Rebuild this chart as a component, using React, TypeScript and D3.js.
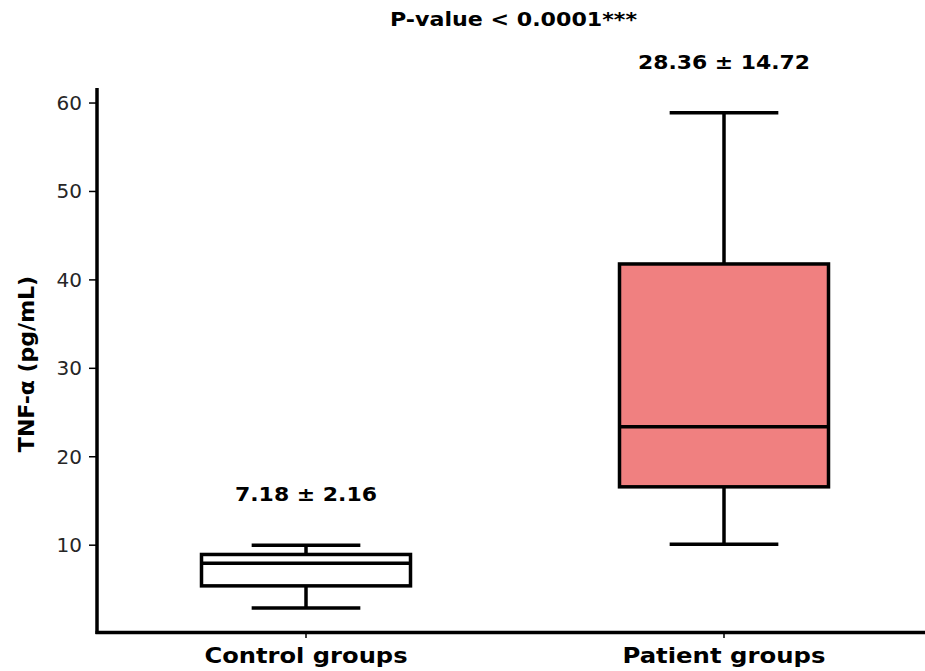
import React from "react";
import * as d3 from "d3";

// box statistics
const categories = ["Control groups", "Patient groups"];
const whiskerLow = [2.9, 10.1];
const q1 = [5.4, 16.6];
const median = [7.95, 23.4];
const q3 = [8.95, 41.8];
const whiskerHigh = [10.0, 58.9];
const fills = ["#ffffff", "#f08080"];
const meanSd = ["7.18 ± 2.16", "28.36 ± 14.72"];
const yTicks = [10, 20, 30, 40, 50, 60];
const title = "P-value < 0.0001***";

const W = 925, H = 671;
const font = "DejaVu Sans, sans-serif";
// the source image is a little wider than tall, so bold labels are stretched
const meanSdLen = [142, 172];
const catLen = [203, 203];

export default function App() {
  const x = d3.scaleLinear().domain([-0.5, 1.5]).range([97, 933]);
  const y = d3.scaleLinear().domain([0.07, 61.7]).range([633, 88]);
  const boxW = x(0.25) - x(0);
  const capW = x(0.13) - x(0);

  return (
    <svg width={W} height={H} style={{ position: "absolute", left: 0, top: 0 }} fontFamily={font}>
      <rect width={W} height={H} fill="#fff" />
      <text x={513.5} y={26} textAnchor="middle" fontWeight="bold" fontSize={19}
        textLength={247} lengthAdjust="spacingAndGlyphs">{title}</text>

      {categories.map((c, i) => {
        const cx = x(i);
        return (
          <g key={c} stroke="#000" strokeWidth={3.5} fill="none">
            <line x1={cx} x2={cx} y1={y(whiskerLow[i])} y2={y(q1[i])} />
            <line x1={cx} x2={cx} y1={y(q3[i])} y2={y(whiskerHigh[i])} />
            <line x1={cx - capW} x2={cx + capW} y1={y(whiskerLow[i])} y2={y(whiskerLow[i])} />
            <line x1={cx - capW} x2={cx + capW} y1={y(whiskerHigh[i])} y2={y(whiskerHigh[i])} />
            <rect x={cx - boxW} width={boxW * 2} y={y(q3[i])} height={y(q1[i]) - y(q3[i])} fill={fills[i]} />
            <line x1={cx - boxW} x2={cx + boxW} y1={y(median[i])} y2={y(median[i])} />
            <text x={cx} y={y(whiskerHigh[i]) - 44} textAnchor="middle" fontWeight="bold" fontSize={19.5}
              textLength={meanSdLen[i]} lengthAdjust="spacingAndGlyphs" stroke="none" fill="#000">{meanSd[i]}</text>
          </g>
        );
      })}

      {/* y axis */}
      <line x1={97} x2={97} y1={88} y2={634} stroke="#000" strokeWidth={3.5} />
      {yTicks.map((t) => (
        <g key={t} transform={`translate(0,${y(t)})`}>
          <line x1={89} x2={97} stroke="#000" strokeWidth={1.5} />
          <text x={82} dy="0.35em" textAnchor="end" fontSize={20} fill="#262626">{t}</text>
        </g>
      ))}
      <text transform={`translate(34,364) rotate(-90)`} textAnchor="middle" fontWeight="bold" fontSize={22}>TNF-α (pg/mL)</text>

      {/* x axis */}
      <line x1={95.5} x2={W} y1={632.5} y2={632.5} stroke="#000" strokeWidth={3.5} />
      {categories.map((c, i) => (
        <g key={c} transform={`translate(${x(i)},0)`}>
          <line y1={634} y2={638} stroke="#000" strokeWidth={1.5} />
          <text y={663} textAnchor="middle" fontWeight="bold" fontSize={21.5}
            textLength={catLen[i]} lengthAdjust="spacingAndGlyphs">{c}</text>
        </g>
      ))}
    </svg>
  );
}
